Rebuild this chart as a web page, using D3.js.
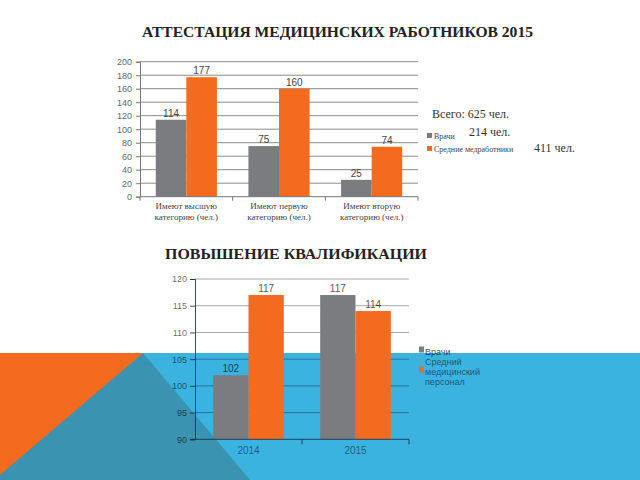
<!DOCTYPE html>
<html><head><meta charset="utf-8">
<script src="https://cdn.jsdelivr.net/npm/d3@7"></script>
<style>html,body{margin:0;padding:0;background:#fff;}svg{display:block;}</style>
</head><body>
<svg id="c" width="640" height="480"></svg>
<script>
// ---- data ----
const categories1 = [["Имеют высшую", "категорию (чел.)"], ["Имеют первую", "категорию (чел.)"], ["Имеют вторую", "категорию (чел.)"]];
const doctors1 = [114, 75, 25];
const nurses1 = [177, 160, 74];
const ticks1 = [0, 20, 40, 60, 80, 100, 120, 140, 160, 180, 200];
const seriesNames1 = ["Врачи", "Средние медработники"];
const totals = ["Всего: 625 чел.", "214 чел.", "411 чел."];

const years = ["2014", "2015"];
const doctors2 = [102, 117];
const nurses2 = [117, 114];
const ticks2 = [90, 95, 100, 105, 110, 115, 120];
const seriesNames2 = [["Врачи"], ["Средний", "медицинский", "персонал"]];

const title1 = "АТТЕСТАЦИЯ МЕДИЦИНСКИХ РАБОТНИКОВ 2015";
const title2 = "ПОВЫШЕНИЕ КВАЛИФИКАЦИИ";

const GRAY = "#7b7c7f", ORANGE = "#f46a1e", BLUE = "#3bb3e0", TEAL = "#3a93b0";
const SERIF = "'Liberation Serif', 'DejaVu Serif', serif";
const SANS = "'Liberation Sans', Arial, sans-serif";

const svg = d3.select("#c");

// ---- decorative background ----
svg.append("rect").attr("x", 0).attr("y", 353).attr("width", 640).attr("height", 127).attr("fill", BLUE);
svg.append("path").attr("d", "M143,353 L250,480 L-10,480 Z").attr("fill", TEAL);
svg.append("path").attr("d", "M0,353 L143,353 L0,475 Z").attr("fill", ORANGE);

// ---- titles ----
svg.append("text").attr("x", 142).attr("y", 37).text(title1)
  .style("font-family", SERIF).attr("font-weight", "bold")
  .attr("font-size", 15).attr("fill", "#222").attr("textLength", 391).attr("lengthAdjust", "spacingAndGlyphs");
svg.append("text").attr("x", 165).attr("y", 259).text(title2)
  .style("font-family", SERIF).attr("font-weight", "bold")
  .attr("font-size", 15).attr("fill", "#222").attr("textLength", 262).attr("lengthAdjust", "spacingAndGlyphs");

// ---- chart 1 ----
(function () {
  const x0 = d3.scaleBand().domain(d3.range(categories1.length)).range([140, 418]).paddingInner(0.34).paddingOuter(0.17);
  const x1 = d3.scaleBand().domain([0, 1]).range([0, x0.bandwidth()]);
  const y = d3.scaleLinear().domain([0, 200]).range([196.7, 61.7]);
  const g = svg.append("g");

  g.selectAll("line.grid").data(ticks1.filter(t => t > 0)).join("line")
    .attr("x1", 140).attr("x2", 418).attr("y1", d => y(d)).attr("y2", d => y(d))
    .attr("stroke", "#8a8a8a").attr("stroke-width", 1);

  const yAxis = d3.axisLeft(y).tickValues(ticks1).tickSize(4).tickPadding(4);
  const ya = g.append("g").attr("transform", "translate(140,0)").call(yAxis);
  ya.select(".domain").attr("stroke", "#777");
  ya.selectAll(".tick line").attr("stroke", "#777");
  ya.selectAll(".tick text").style("font-family", SANS).attr("font-size", 9).attr("fill", "#666");

  const data = categories1.map((c, i) => [doctors1[i], nurses1[i]]);
  const grp = g.selectAll("g.grp").data(data).join("g").attr("transform", (d, i) => `translate(${x0(i)},0)`);
  grp.selectAll("rect").data(d => d).join("rect")
    .attr("x", (d, j) => x1(j)).attr("width", x1.bandwidth())
    .attr("y", d => y(d)).attr("height", d => y(0) - y(d))
    .attr("fill", (d, j) => j === 0 ? GRAY : ORANGE);
  grp.selectAll("text").data(d => d).join("text")
    .attr("x", (d, j) => x1(j) + x1.bandwidth() / 2).attr("y", d => y(d) - 3)
    .attr("text-anchor", "middle").style("font-family", SANS)
    .attr("font-size", 10).attr("fill", "#444").text(d => d);

  const xb = d3.scaleLinear().domain([0, 3]).range([140, 418]);
  g.append("line").attr("x1", 140).attr("x2", 418).attr("y1", y(0)).attr("y2", y(0)).attr("stroke", "#777");
  g.selectAll("line.xt").data([0, 1, 2, 3]).join("line")
    .attr("x1", d => xb(d)).attr("x2", d => xb(d)).attr("y1", y(0)).attr("y2", y(0) + 4).attr("stroke", "#777");
  categories1.forEach((lines, i) => {
    const t = g.append("text").attr("text-anchor", "middle")
      .style("font-family", SERIF).attr("font-size", 9).attr("fill", "#444");
    lines.forEach((ln, k) => t.append("tspan").attr("x", x0(i) + x0.bandwidth() / 2).attr("y", 209 + k * 10.5).text(ln));
  });

  const lg = svg.append("g");
  [GRAY, ORANGE].forEach((c, i) => {
    lg.append("rect").attr("x", 427).attr("y", 133 + i * 13).attr("width", 5).attr("height", 5).attr("fill", c);
    lg.append("text").attr("x", 434).attr("y", 138.5 + i * 13).text(seriesNames1[i])
      .style("font-family", SERIF).attr("font-size", 8).attr("fill", "#444");
  });
  lg.append("text").attr("x", 432).attr("y", 118).text(totals[0]).style("font-family", SERIF).attr("font-size", 12).attr("fill", "#333");
  lg.append("text").attr("x", 469).attr("y", 136).text(totals[1]).style("font-family", SERIF).attr("font-size", 12).attr("fill", "#333");
  lg.append("text").attr("x", 534).attr("y", 152).text(totals[2]).style("font-family", SERIF).attr("font-size", 12).attr("fill", "#333");
})();

// ---- chart 2 ----
(function () {
  const x0 = d3.scaleBand().domain(years).range([195, 409]).paddingInner(0.34).paddingOuter(0.17);
  const x1 = d3.scaleBand().domain([0, 1]).range([0, x0.bandwidth()]);
  const y = d3.scaleLinear().domain([90, 120]).range([439.3, 279]);
  const g = svg.append("g");

  g.selectAll("line.grid").data(ticks2.filter(t => t > 90)).join("line")
    .attr("x1", 195).attr("x2", 409).attr("y1", d => y(d)).attr("y2", d => y(d))
    .attr("stroke", "#000").attr("stroke-opacity", 0.35).attr("stroke-width", 1);

  const data = years.map((yr, i) => [doctors2[i], nurses2[i]]);
  const grp = g.selectAll("g.grp").data(data).join("g").attr("transform", (d, i) => `translate(${x0(years[i])},0)`);
  grp.selectAll("rect").data(d => d).join("rect")
    .attr("x", (d, j) => x1(j)).attr("width", x1.bandwidth())
    .attr("y", d => y(d)).attr("height", d => y(90) - y(d))
    .attr("fill", (d, j) => j === 0 ? GRAY : ORANGE);
  grp.selectAll("text").data(d => d).join("text")
    .attr("x", (d, j) => x1(j) + x1.bandwidth() / 2).attr("y", d => y(d) - 3)
    .attr("text-anchor", "middle").style("font-family", SANS)
    .attr("font-size", 10).attr("fill", "#000").attr("fill-opacity", 0.7).text(d => d);

  const yAxis = d3.axisLeft(y).tickValues(ticks2).tickSize(5).tickPadding(3);
  const ya = g.append("g").attr("transform", "translate(195,0)").call(yAxis);
  ya.select(".domain").attr("stroke", "#1c2e40").attr("stroke-opacity", 0.85);
  ya.selectAll(".tick line").attr("stroke", "#1c2e40").attr("stroke-opacity", 0.85);
  ya.selectAll(".tick text").style("font-family", SANS).attr("font-size", 9).attr("fill", "#000").attr("fill-opacity", 0.6);

  const xb = d3.scaleLinear().domain([0, 2]).range([195, 409]);
  g.append("line").attr("x1", 190).attr("x2", 409).attr("y1", y(90)).attr("y2", y(90)).attr("stroke", "#1c2e40").attr("stroke-opacity", 0.85);
  g.selectAll("line.xt").data([1, 2]).join("line")
    .attr("x1", d => xb(d)).attr("x2", d => xb(d)).attr("y1", y(90)).attr("y2", y(90) + 5).attr("stroke", "#1c2e40").attr("stroke-opacity", 0.85);
  g.selectAll("text.yr").data(years).join("text")
    .attr("x", d => x0(d) + x0.bandwidth() / 2).attr("y", 454).attr("text-anchor", "middle")
    .style("font-family", SANS).attr("font-size", 10).attr("fill", "#000").attr("fill-opacity", 0.5).text(d => d);

  const lg = svg.append("g");
  const sw = [GRAY, ORANGE];
  const rows = [[0, 0, 352], [1, 0, 362], [1, 1, 372], [1, 2, 382]];
  sw.forEach((c, i) => {
    lg.append("rect").attr("x", 419).attr("y", i === 0 ? 346.5 : 366.5).attr("width", 5).attr("height", 6).attr("fill", c);
  });
  rows.forEach(([s, k, yy]) => {
    lg.append("text").attr("x", 425).attr("y", yy + 3).text(seriesNames2[s][k])
      .style("font-family", SANS).attr("font-size", 9).attr("fill", "#000").attr("fill-opacity", s === 0 ? 0.75 : 0.55);
  });
})();
</script>
</body></html>
